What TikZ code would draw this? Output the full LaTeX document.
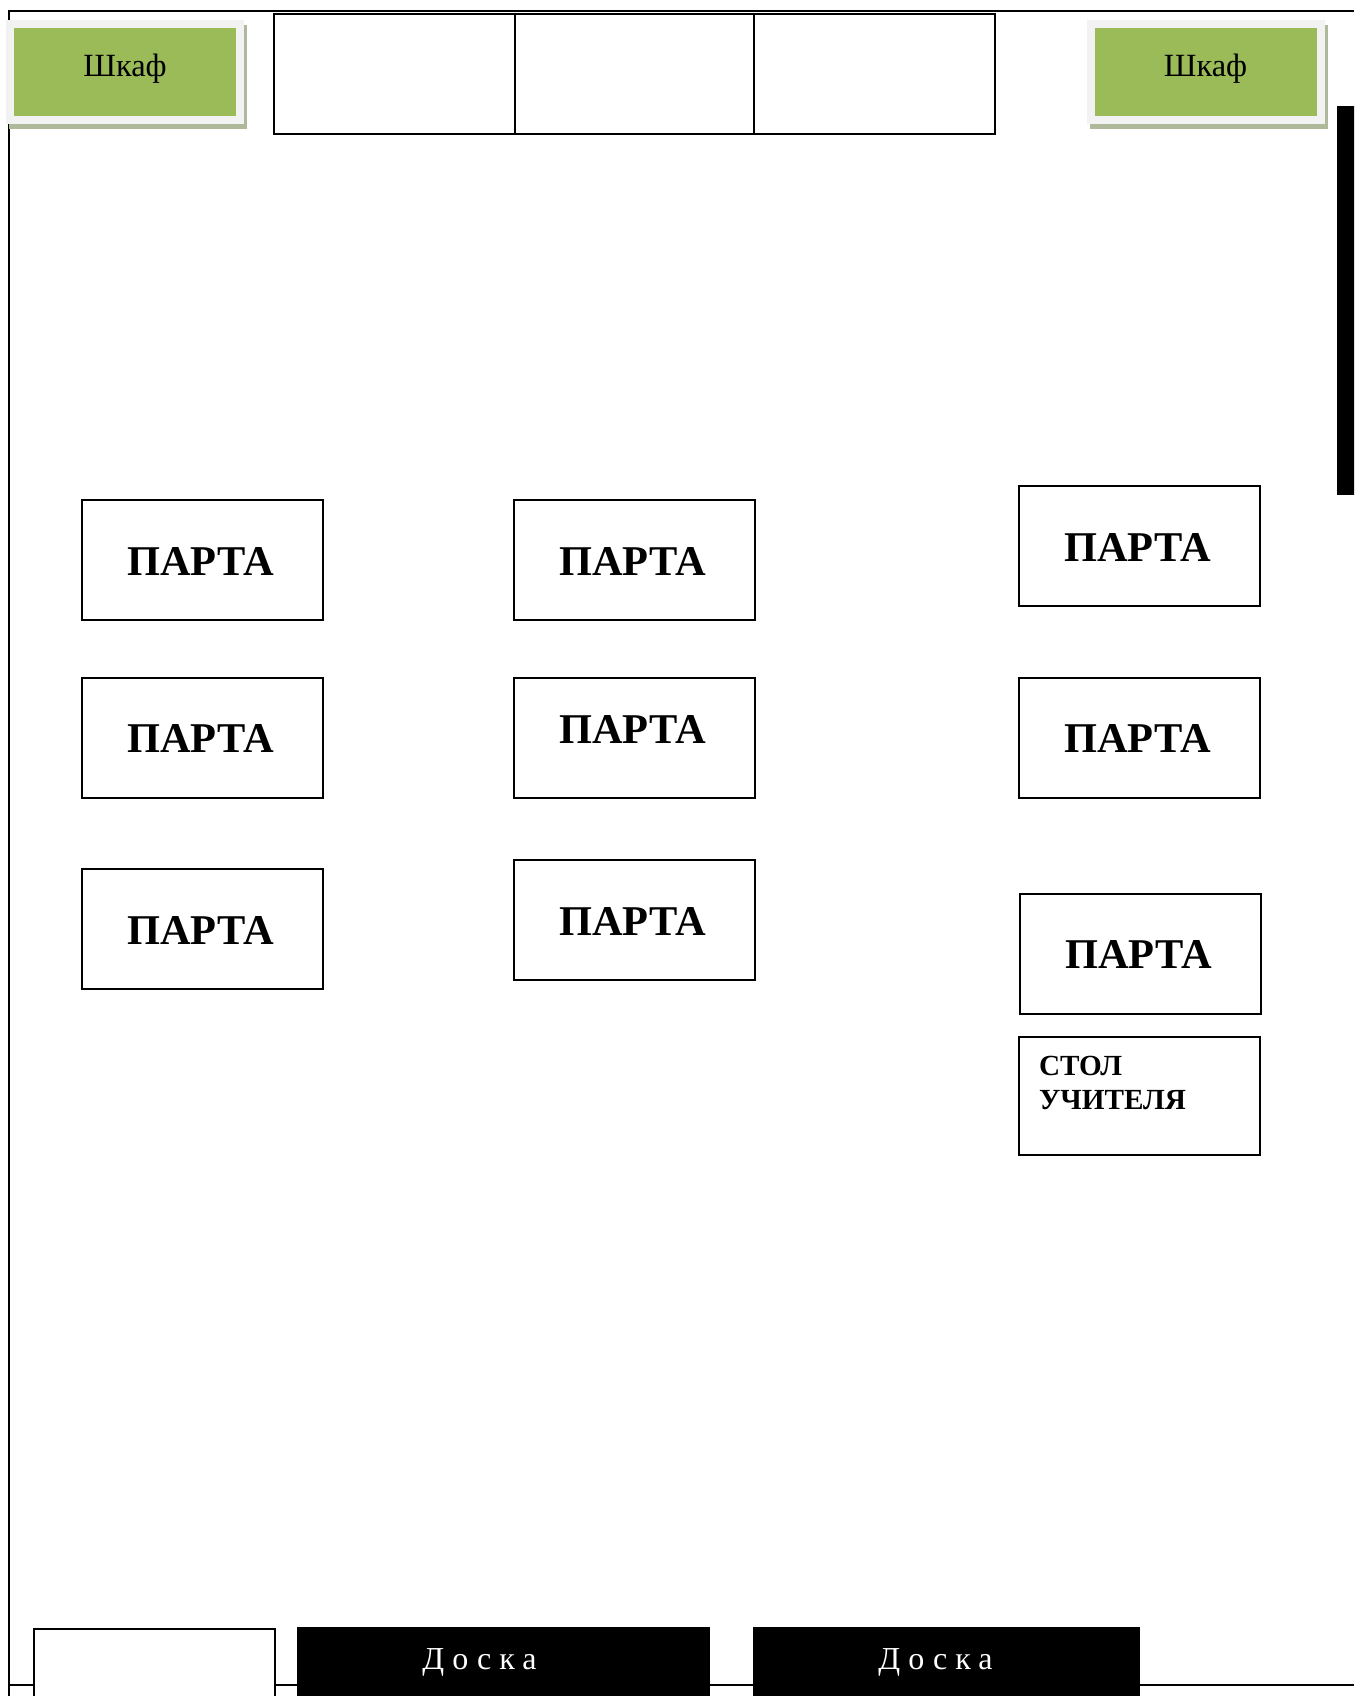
\documentclass[tikz,border=0pt]{standalone}
\usepackage{fontspec}
\setmainfont{Liberation Serif}
\usetikzlibrary{shadows}
\definecolor{cabgreen}{HTML}{9BBB59}
\definecolor{cabedge}{HTML}{F2F2F2}
\definecolor{cabshadow}{HTML}{AEB89A}
\tikzset{
	desk/.style={draw,line width=1pt,minimum width=120.5pt,minimum height=60pt,inner sep=0pt,font=\fontsize{21.2}{24}\selectfont\bfseries,text height=15pt,text depth=0pt},
	shelf/.style={draw,line width=1pt,minimum height=60pt,inner sep=0pt},
	cabinet/.style={draw=cabedge,line width=4pt,fill=cabgreen,minimum width=115pt,minimum height=48pt,inner sep=0pt,font=\fontsize{16.2}{20}\selectfont,text height=11pt,text depth=7pt,
		copy shadow={draw=cabshadow,fill=cabshadow,shadow xshift=1.6pt,shadow yshift=-2.5pt,opacity=1},
		copy shadow={draw=white,fill=white,line width=1pt,shadow xshift=0.6pt,shadow yshift=-0.8pt,opacity=1}},
	board/.style={fill=black,minimum height=40pt,inner sep=0pt,anchor=north},
	boardtext/.style={text=white,inner sep=0pt,font=\fontsize{16}{19}\selectfont\addfontfeature{LetterSpace=25}}
}
\newcommand{\desktext}{ПАРТА\hspace*{2pt}}
\begin{document}
\begin{tikzpicture}[x=0.5pt,y=-0.5pt,line width=1pt]
	\clip (0,0) rectangle (1354,1696);
	% walls
	\coordinate (topright) at (1354,11);
	\coordinate (topleft) at (9,11);
	\coordinate (botleft) at (9,1696);
	\coordinate (floorleft) at (9,1685);
	\coordinate (floorright) at (1354,1685);
	\draw (topright) -- (topleft) -- (botleft);
	\draw (floorleft) -- (floorright);
	% cupboards and shelves
	\node[cabinet] at (125,72.5) (cab1) {Шкаф};
	\node[cabinet] at (1205.5,72.5) (cab2) {Шкаф};
	\node[shelf,minimum width=120.5pt] at (394.5,74.5) (shelf1) {};
	\node[shelf,minimum width=119.5pt] at (634.5,74.5) (shelf2) {};
	\node[shelf,minimum width=120.5pt] at (874.5,74.5) (shelf3) {};
	\node[fill=black,minimum width=15pt,minimum height=194pt,inner sep=0pt] at (1352,300.5) (windowbar) {};
	% desks
	\node[desk] at (202.5,560) (deskA) {\desktext};
	\node[desk] at (202.5,737.5) (deskB) {\desktext};
	\node[desk] at (202.5,929) (deskC) {\desktext};
	\node[desk] at (634.5,560) (deskD) {\desktext};
	\node[desk,text depth=9pt] at (634.5,737.5) (deskE) {\desktext};
	\node[desk] at (634.5,920) (deskF) {\desktext};
	\node[desk] at (1139.5,546) (deskG) {\desktext};
	\node[desk] at (1139.5,737.5) (deskH) {\desktext};
	\node[desk] at (1140.5,953.5) (deskI) {\desktext};
	\node[draw,line width=1pt,minimum width=120.5pt,minimum height=59pt,inner sep=0pt] at (1139,1096) (table) {};
	\node[anchor=north west,inner sep=0pt,align=left,font=\fontsize{14.6}{17}\selectfont\bfseries] at (1038,1055.5) (tabletext) {СТОЛ\\УЧИТЕЛЯ};
	% front of the room
	\node[board,draw,fill=white,minimum width=120.5pt] at (154.5,1627.5) (door) {};
	\node[board,minimum width=206.5pt] at (503.5,1626) (doska1) {};
	\node[board,minimum width=193.5pt] at (946,1626) (doska2) {};
	\node[boardtext] at (479.5,1662) (doskatext1) {Доска};
	\node[boardtext] at (935.5,1662) (doskatext2) {Доска};
\end{tikzpicture}
\end{document}
